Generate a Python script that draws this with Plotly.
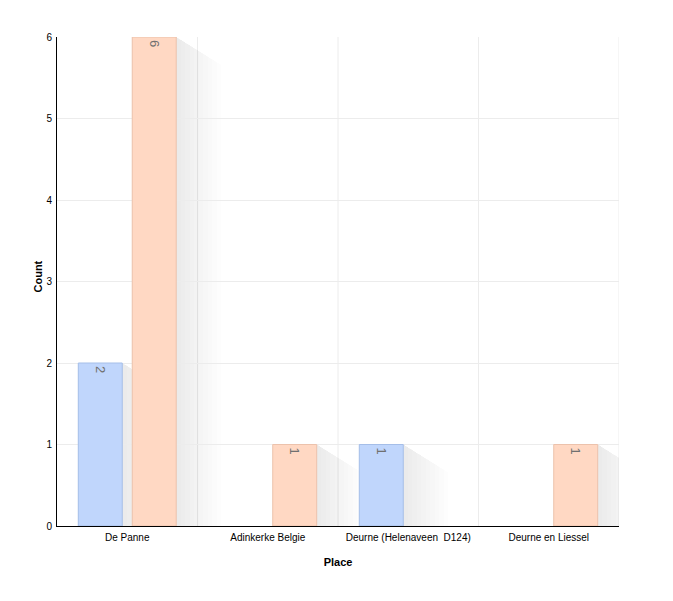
import plotly.graph_objects as go

places = ["De Panne", "Adinkerke Belgie", "Deurne (Helenaveen  D124)", "Deurne en Liessel"]
series_a = [2, 0, 1, 0]
series_b = [6, 1, 0, 1]
y_ticks = [0, 1, 2, 3, 4, 5, 6]

blue_fill = "rgb(192,214,252)"
blue_line = "rgb(165,190,232)"
orange_fill = "rgb(255,216,195)"
orange_line = "rgb(236,194,172)"

bargap = 0.232
bargroupgap = 0.185

fig = go.Figure()
for vals, fill, line in [(series_a, blue_fill, blue_line), (series_b, orange_fill, orange_line)]:
    fig.add_trace(go.Bar(
        x=list(range(len(places))),
        y=[v if v else None for v in vals],
        text=[str(v) if v else "" for v in vals],
        textposition="inside",
        insidetextanchor="end",
        textangle=90,
        textfont=dict(family="Arial", size=13, color="#707070"),
        marker=dict(color=fill, line=dict(color=line, width=1)),
        hoverinfo="skip",
        showlegend=False,
    ))

# soft diagonal shadows
shapes = []
slot = (1 - bargap) / 2
bw = slot * (1 - bargroupgap)
px_x = 1 / 562 * len(places)
px_y = 6 / 489
for si, vals in enumerate([series_a, series_b]):
    for ci, v in enumerate(vals):
        if not v:
            continue
        x0 = ci - (1 - bargap) / 2 + si * slot + slot * bargroupgap / 2
        x1 = x0 + bw
        for k in range(1, 11):
            dx = 4.5 * k * px_x
            dy = 2.8 * k * px_y
            path = (f"M {x0},{v} L {x1},{v} L {x1+dx},{v-dy} L {x1+dx},{-dy} "
                    f"L {x0+dx},{-dy} L {x0},0 Z")
            shapes.append(dict(type="path", path=path, xref="x", yref="y",
                               fillcolor="rgba(110,100,100,0.011)", line=dict(width=0),
                               layer="below"))

fig.update_layout(
    width=673, height=601,
    margin=dict(l=49, r=62, t=29, b=83),
    paper_bgcolor="white", plot_bgcolor="white",
    barmode="group", bargap=bargap, bargroupgap=bargroupgap,
    font=dict(family="Arial", size=10, color="#000"),
    shapes=shapes,
    xaxis=dict(
        tickmode="array",
        tickvals=list(range(len(places))),
        ticktext=[p.replace("  ", "\u00a0\u00a0") for p in places],
        range=[-0.5, len(places) - 0.5],
        showgrid=False,
        showline=True, linecolor="#000", linewidth=1,
        ticks="",
        ticklabelstandoff=2,
        tickfont=dict(size=10, color="#000"),
        title=dict(text="<b>Place</b>", font=dict(size=11, color="#000"), standoff=16),
        zeroline=False,
    ),
    yaxis=dict(
        range=[0, 6],
        tickvals=y_ticks,
        showgrid=True, gridcolor="#ececec", gridwidth=1,
        showline=True, linecolor="#000", linewidth=1,
        ticks="",
        ticklabelstandoff=2,
        tickfont=dict(size=10, color="#000"),
        zeroline=False,
    ),
    annotations=[dict(
        text="<b>Count</b>", textangle=-90, showarrow=False,
        xref="paper", yref="paper", x=0, y=0.5, xanchor="center", yanchor="middle",
        xshift=-20, yshift=5, font=dict(size=11, color="#000"),
    )],
)

# vertical gridlines at category boundaries
for b in [i + 0.5 for i in range(len(places))]:
    fig.add_shape(type="line", x0=b, x1=b, y0=0, y1=1, xref="x", yref="paper",
                  line=dict(color="#ececec", width=1), layer="below")

fig.write_html("out.html")
